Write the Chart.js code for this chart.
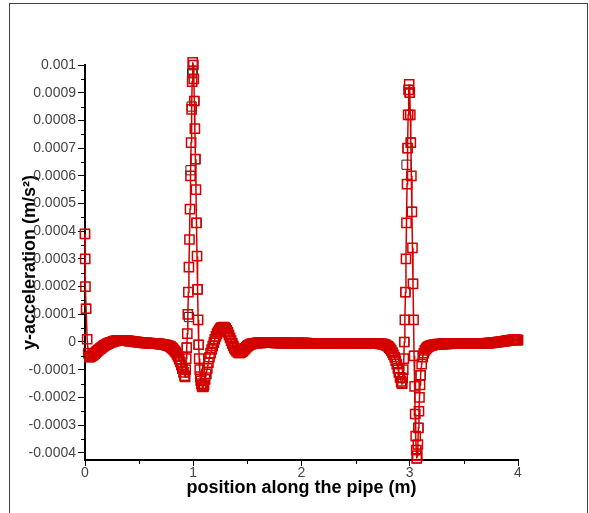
<!DOCTYPE html>
<html>
<head>
<meta charset="utf-8">
<script src="https://cdn.jsdelivr.net/npm/chart.js@4/dist/chart.umd.min.js"></script>
<style>
  html, body { margin: 0; padding: 0; background: #fff; overflow: hidden; }
  #wrap { position: relative; width: 589px; height: 513px; }
  #frame { position: absolute; left: 9px; top: 3px; width: 579px; height: 530px; border: 1px solid #444; box-sizing: border-box; pointer-events: none; }
  canvas { position: absolute; left: 0; top: 0; }
</style>
</head>
<body>
<div id="wrap">
  <div id="frame"></div>
  <canvas id="c" width="589" height="513"></canvas>
</div>
<script>
// ---- data (position in m, y-acceleration in m/s^2) ----
const redX = [
  0, 0.002, 0.004, 0.01,
  0.02, 0.03, 0.04, 0.05, 0.06, 0.07, 0.08, 0.09, 0.10,
  0.11, 0.12, 0.13, 0.14, 0.15, 0.16, 0.17, 0.18, 0.19, 0.20,
  0.21, 0.22, 0.23, 0.24, 0.25, 0.26, 0.27, 0.28, 0.29, 0.30,
  0.31, 0.32, 0.33, 0.34, 0.35, 0.36, 0.37, 0.38, 0.39, 0.40,
  0.41, 0.42, 0.43, 0.44, 0.45, 0.46, 0.47, 0.48, 0.49, 0.50,
  0.51, 0.52, 0.53, 0.54, 0.55, 0.56, 0.57, 0.58, 0.59, 0.60,
  0.61, 0.62, 0.63, 0.64, 0.65, 0.66, 0.67, 0.68, 0.69, 0.70,
  0.71, 0.72, 0.73, 0.74, 0.75, 0.76, 0.77, 0.78, 0.79, 0.80,
  0.81, 0.82, 0.83, 0.84, 0.85, 0.86, 0.87, 0.88, 0.89, 0.90,
  0.91, 0.92, 0.925, 0.93, 0.935, 0.94, 0.945, 0.95, 0.955, 0.96,
  0.965, 0.97, 0.975, 0.98, 0.985, 0.99, 0.995, 1.0, 1.005, 1.01,
  1.015, 1.02, 1.025, 1.03, 1.035, 1.04, 1.045, 1.05, 1.055, 1.06,
  1.065, 1.07, 1.075, 1.08, 1.085, 1.09, 1.095, 1.10,
  1.11, 1.12, 1.13, 1.14, 1.15, 1.16, 1.17, 1.18, 1.19, 1.20,
  1.21, 1.22, 1.23, 1.24, 1.25, 1.26, 1.27, 1.28, 1.29, 1.30,
  1.31, 1.32, 1.33, 1.34, 1.35, 1.36, 1.37, 1.38, 1.39, 1.40,
  1.41, 1.42, 1.43, 1.44, 1.45, 1.46, 1.47, 1.48, 1.49, 1.50,
  1.51, 1.52, 1.53, 1.54, 1.55, 1.56, 1.57, 1.58, 1.59, 1.60,
  1.61, 1.62, 1.63, 1.64, 1.65, 1.66, 1.67, 1.68, 1.69, 1.70,
  1.71, 1.72, 1.73, 1.74, 1.75, 1.76, 1.77, 1.78, 1.79, 1.80,
  1.81, 1.82, 1.83, 1.84, 1.85, 1.86, 1.87, 1.88, 1.89, 1.90,
  1.91, 1.92, 1.93, 1.94, 1.95, 1.96, 1.97, 1.98, 1.99, 2.00,
  2.01, 2.02, 2.03, 2.04, 2.05, 2.06, 2.07, 2.08, 2.09, 2.10,
  2.11, 2.12, 2.13, 2.14, 2.15, 2.16, 2.17, 2.18, 2.19, 2.20,
  2.21, 2.22, 2.23, 2.24, 2.25, 2.26, 2.27, 2.28, 2.29, 2.30,
  2.31, 2.32, 2.33, 2.34, 2.35, 2.36, 2.37, 2.38, 2.39, 2.40,
  2.41, 2.42, 2.43, 2.44, 2.45, 2.46, 2.47, 2.48, 2.49, 2.50,
  2.51, 2.52, 2.53, 2.54, 2.55, 2.56, 2.57, 2.58, 2.59, 2.60,
  2.61, 2.62, 2.63, 2.64, 2.65, 2.66, 2.67, 2.68, 2.69, 2.70,
  2.71, 2.72, 2.73, 2.74, 2.75,
  2.76, 2.77, 2.78, 2.79, 2.80, 2.81, 2.82, 2.83, 2.84, 2.85,
  2.86, 2.87, 2.88, 2.89, 2.90,
  2.91, 2.92, 2.925,
  2.93, 2.935, 2.94, 2.945, 2.95, 2.955, 2.96, 2.965, 2.97, 2.975,
  2.98, 2.985, 2.99, 2.995, 3.0, 3.005, 3.01, 3.015, 3.02, 3.025,
  3.03, 3.035, 3.04, 3.045, 3.05, 3.055, 3.06, 3.065, 3.07, 3.075,
  3.08, 3.085, 3.09, 3.095, 3.10,
  3.11, 3.12, 3.13, 3.14, 3.15,
  3.16, 3.17, 3.18, 3.19, 3.20, 3.21, 3.22, 3.23, 3.24, 3.25,
  3.26, 3.27, 3.28, 3.29, 3.30, 3.31, 3.32, 3.33, 3.34, 3.35,
  3.36, 3.37, 3.38, 3.39, 3.40, 3.41, 3.42, 3.43, 3.44, 3.45,
  3.46, 3.47, 3.48, 3.49, 3.50, 3.51, 3.52, 3.53, 3.54, 3.55,
  3.56, 3.57, 3.58, 3.59, 3.60, 3.61, 3.62, 3.63, 3.64, 3.65,
  3.66, 3.67, 3.68, 3.69, 3.70, 3.71, 3.72, 3.73, 3.74, 3.75,
  3.76, 3.77, 3.78, 3.79, 3.80, 3.81, 3.82, 3.83, 3.84, 3.85,
  3.86, 3.87, 3.88, 3.89, 3.90, 3.91, 3.92, 3.93, 3.94, 3.95,
  3.96, 3.97, 3.98, 3.99, 4.00
];
const redY = [
  39e-5, 30e-5, 20e-5, 12e-5,
  1e-5, -4e-5, -5.5e-5, -5.3e-5, -5e-5, -4.8e-5, -4.5e-5, -4.2e-5, -3.8e-5,
  -3.4e-5, -3e-5, -2.7e-5, -2.4e-5, -2.1e-5, -1.8e-5, -1.5e-5, -1.2e-5, -1e-5, -0.8e-5,
  -0.6e-5, -0.4e-5, -0.2e-5, -0.1e-5, 0, 0.2e-5, 0.3e-5, 0.4e-5, 0.45e-5, 0.5e-5,
  0.55e-5, 0.6e-5, 0.6e-5, 0.6e-5, 0.6e-5, 0.6e-5, 0.55e-5, 0.5e-5, 0.45e-5, 0.4e-5,
  0.35e-5, 0.3e-5, 0.25e-5, 0.2e-5, 0.15e-5, 0.1e-5, 0.05e-5, 0, -0.05e-5, -0.1e-5,
  -0.15e-5, -0.2e-5, -0.25e-5, -0.3e-5, -0.3e-5, -0.3e-5, -0.35e-5, -0.4e-5, -0.4e-5, -0.4e-5,
  -0.45e-5, -0.5e-5, -0.5e-5, -0.5e-5, -0.55e-5, -0.6e-5, -0.6e-5, -0.65e-5, -0.7e-5, -0.8e-5,
  -0.85e-5, -0.9e-5, -0.95e-5, -1e-5, -1.1e-5, -1.2e-5, -1.35e-5, -1.5e-5, -1.7e-5, -2e-5,
  -2.4e-5, -2.8e-5, -3.3e-5, -3.8e-5, -4.5e-5, -5.2e-5, -6.2e-5, -7.2e-5, -8.4e-5, -9.6e-5,
  -11e-5, -12.2e-5, -12.6e-5, -10e-5, -6e-5, -2e-5, 3e-5, 10e-5, 18e-5, 27e-5,
  37e-5, 48e-5, 60e-5, 72e-5, 84e-5, 94e-5, 101e-5, 100e-5, 95e-5, 87e-5,
  77e-5, 66e-5, 55e-5, 43e-5, 31e-5, 19e-5, 8e-5, -1e-5, -6e-5, -10e-5,
  -12.5e-5, -14e-5, -15e-5, -15.7e-5, -16.1e-5, -16.2e-5, -16e-5, -15.4e-5,
  -13.5e-5, -11.5e-5, -9.5e-5, -7.5e-5, -5.5e-5, -4e-5, -2.7e-5, -1.5e-5, -0.2e-5, 1e-5,
  2e-5, 3e-5, 3.7e-5, 4.3e-5, 4.8e-5, 5.2e-5, 5.3e-5, 5.4e-5, 5.2e-5, 4.8e-5,
  4.2e-5, 3.5e-5, 2.5e-5, 1.5e-5, 0.5e-5, -0.5e-5, -1.4e-5, -2.2e-5, -2.8e-5, -3.3e-5,
  -3.6e-5, -3.9e-5, -3.9e-5, -3.8e-5, -3.5e-5, -3.2e-5, -2.8e-5, -2.3e-5, -1.9e-5, -1.5e-5,
  -1.2e-5, -1e-5, -0.8e-5, -0.7e-5, -0.6e-5, -0.5e-5, -0.45e-5, -0.4e-5, -0.35e-5, -0.3e-5,
  -0.3e-5, -0.3e-5, -0.3e-5, -0.25e-5, -0.2e-5, -0.2e-5, -0.2e-5, -0.2e-5, -0.2e-5, -0.2e-5,
  -0.2e-5, -0.2e-5, -0.2e-5, -0.25e-5, -0.3e-5, -0.3e-5, -0.3e-5, -0.3e-5, -0.3e-5, -0.3e-5,
  -0.3e-5, -0.3e-5, -0.3e-5, -0.3e-5, -0.3e-5, -0.3e-5, -0.35e-5, -0.4e-5, -0.4e-5, -0.4e-5,
  -0.4e-5, -0.4e-5, -0.4e-5, -0.4e-5, -0.4e-5, -0.4e-5, -0.4e-5, -0.4e-5, -0.4e-5, -0.4e-5,
  -0.4e-5, -0.4e-5, -0.4e-5, -0.4e-5, -0.4e-5, -0.45e-5, -0.5e-5, -0.5e-5, -0.5e-5, -0.5e-5,
  -0.5e-5, -0.5e-5, -0.5e-5, -0.5e-5, -0.5e-5, -0.5e-5, -0.5e-5, -0.5e-5, -0.5e-5, -0.5e-5,
  -0.5e-5, -0.5e-5, -0.5e-5, -0.5e-5, -0.5e-5, -0.5e-5, -0.5e-5, -0.5e-5, -0.5e-5, -0.5e-5,
  -0.5e-5, -0.5e-5, -0.5e-5, -0.5e-5, -0.5e-5, -0.5e-5, -0.5e-5, -0.5e-5, -0.5e-5, -0.5e-5,
  -0.5e-5, -0.5e-5, -0.5e-5, -0.5e-5, -0.5e-5, -0.5e-5, -0.5e-5, -0.5e-5, -0.5e-5, -0.5e-5,
  -0.55e-5, -0.6e-5, -0.6e-5, -0.6e-5, -0.6e-5, -0.6e-5, -0.6e-5, -0.6e-5, -0.6e-5, -0.6e-5,
  -0.6e-5, -0.6e-5, -0.6e-5, -0.6e-5, -0.6e-5, -0.6e-5, -0.6e-5, -0.6e-5, -0.6e-5, -0.6e-5,
  -0.6e-5, -0.6e-5, -0.65e-5, -0.7e-5, -0.75e-5,
  -0.8e-5, -0.95e-5, -1.1e-5, -1.35e-5, -1.6e-5, -2e-5, -2.5e-5, -3.1e-5, -3.8e-5, -4.6e-5,
  -5.5e-5, -6.7e-5, -8e-5, -9.5e-5, -11e-5,
  -12.8e-5, -14.2e-5, -14.8e-5,
  -15e-5, -13e-5, -10e-5, -6e-5, 0, 8e-5, 18e-5, 30e-5, 43e-5, 57e-5,
  70e-5, 82e-5, 91e-5, 93e-5, 90e-5, 82e-5, 72e-5, 60e-5, 47e-5, 34e-5,
  21e-5, 8e-5, -5e-5, -16e-5, -26e-5, -34e-5, -39e-5, -42e-5, -41e-5, -37e-5,
  -31e-5, -25e-5, -20e-5, -15.5e-5, -12e-5,
  -8e-5, -5.5e-5, -4e-5, -3e-5, -2.5e-5,
  -2e-5, -1.7e-5, -1.5e-5, -1.35e-5, -1.2e-5, -1.1e-5, -1e-5, -0.95e-5, -0.9e-5, -0.85e-5,
  -0.8e-5, -0.8e-5, -0.8e-5, -0.75e-5, -0.7e-5, -0.7e-5, -0.7e-5, -0.7e-5, -0.7e-5, -0.65e-5,
  -0.6e-5, -0.6e-5, -0.6e-5, -0.6e-5, -0.6e-5, -0.6e-5, -0.6e-5, -0.6e-5, -0.6e-5, -0.6e-5,
  -0.6e-5, -0.6e-5, -0.6e-5, -0.6e-5, -0.6e-5, -0.6e-5, -0.6e-5, -0.6e-5, -0.6e-5, -0.6e-5,
  -0.6e-5, -0.6e-5, -0.6e-5, -0.55e-5, -0.5e-5, -0.5e-5, -0.5e-5, -0.5e-5, -0.5e-5, -0.5e-5,
  -0.5e-5, -0.5e-5, -0.5e-5, -0.5e-5, -0.5e-5, -0.45e-5, -0.4e-5, -0.4e-5, -0.35e-5, -0.3e-5,
  -0.3e-5, -0.25e-5, -0.2e-5, -0.15e-5, -0.1e-5, -0.05e-5, 0, 0.05e-5, 0.1e-5, 0.15e-5,
  0.2e-5, 0.25e-5, 0.3e-5, 0.4e-5, 0.5e-5, 0.55e-5, 0.6e-5, 0.65e-5, 0.7e-5, 0.75e-5,
  0.8e-5, 0.8e-5, 0.8e-5, 0.75e-5, 0.7e-5
];
// second (black) series: almost coincident with the red one, hidden underneath
const blackX = [
  0, 0.01, 0.04, 0.10, 0.20, 0.30, 0.40, 0.50, 0.60, 0.70,
  0.80, 0.86, 0.90, 0.92, 0.94, 0.96, 0.975, 0.985, 0.99, 0.995,
  1.0, 1.01, 1.02, 1.03, 1.04, 1.05, 1.07, 1.09, 1.12, 1.20,
  1.28, 1.36, 1.42, 1.50, 1.60, 1.80, 2.00, 2.20, 2.40, 2.60,
  2.76, 2.84, 2.90, 2.93, 2.95, 2.96, 2.97, 2.98, 2.99, 3.0,
  3.01, 3.02, 3.03, 3.04, 3.05, 3.06, 3.065, 3.08, 3.10, 3.16,
  3.30, 3.50, 3.70, 3.86, 4.00
];
const blackY = [
  39e-5, 12e-5, -5.5e-5, -3.8e-5, -0.8e-5, 0.5e-5, 0.4e-5, -0.1e-5, -0.4e-5, -0.8e-5,
  -2e-5, -5.2e-5, -9.6e-5, -12.2e-5, -2e-5, 9e-5, 62e-5, 85e-5, 97e-5, 98e-5,
  100e-5, 87e-5, 66e-5, 43e-5, 19e-5, -1e-5, -14e-5, -16.2e-5, -11.5e-5, 1e-5,
  5.4e-5, -0.5e-5, -3.9e-5, -1.5e-5, -0.3e-5, -0.3e-5, -0.4e-5, -0.5e-5, -0.5e-5, -0.6e-5,
  -0.8e-5, -3.8e-5, -11e-5, -15e-5, 0, 18e-5, 64e-5, 70e-5, 91e-5, 90e-5,
  72e-5, 47e-5, 21e-5, -5e-5, -26e-5, -39e-5, -42e-5, -31e-5, -12e-5, -2e-5,
  -0.7e-5, -0.6e-5, -0.5e-5, 0.2e-5, 0.7e-5
];

const xTicks = [0, 1, 2, 3, 4];
const xTickLabels = ['0', '1', '2', '3', '4'];
const xMinorTicks = [0.5, 1.5, 2.5, 3.5];
const yTicks = [-0.0004, -0.0003, -0.0002, -0.0001, 0, 0.0001, 0.0002, 0.0003, 0.0004, 0.0005, 0.0006, 0.0007, 0.0008, 0.0009, 0.001];
const yTickLabels = ['-0.0004', '-0.0003', '-0.0002', '-0.0001', '0', '0.0001', '0.0002', '0.0003', '0.0004', '0.0005', '0.0006', '0.0007', '0.0008', '0.0009', '0.001'];
const yMinorTicks = [-0.00035, -0.00025, -0.00015, -0.00005, 0.00005, 0.00015, 0.00025, 0.00035, 0.00045, 0.00055, 0.00065, 0.00075, 0.00085, 0.00095];

const xTitle = 'position along the pipe (m)';
const yTitle = 'y-acceleration (m/s\u00B2)';

const RED = '#d40000';

function pts(xs, ys) { return xs.map((x, i) => ({ x: x, y: ys[i] })); }

const minorTicksPlugin = {
  id: 'minorTicks',
  afterDraw(chart) {
    const ctx = chart.ctx;
    const xs = chart.scales.x, ys = chart.scales.y;
    const ca = chart.chartArea;
    ctx.save();
    ctx.strokeStyle = '#000';
    ctx.lineWidth = 1;
    ctx.beginPath();
    yMinorTicks.forEach(v => {
      const py = Math.round(ys.getPixelForValue(v)) + 0.5;
      ctx.moveTo(ca.left - 4, py);
      ctx.lineTo(ca.left, py);
    });
    xMinorTicks.forEach(v => {
      const px = Math.round(xs.getPixelForValue(v)) + 0.5;
      ctx.moveTo(px, ca.bottom);
      ctx.lineTo(px, ca.bottom + 4);
    });
    ctx.stroke();
    ctx.restore();
  }
};

const tickFont = { family: '"Liberation Sans", Arial, sans-serif', size: 14 };
const titleFont = { family: '"Liberation Sans", Arial, sans-serif', size: 18, weight: 'bold' };

new Chart(document.getElementById('c'), {
  type: 'scatter',
  data: {
    datasets: [
      {
        label: 'red',
        data: pts(redX, redY),
        showLine: true,
        borderColor: RED,
        borderWidth: 1.5,
        pointStyle: 'rect',
        pointRadius: 6.5,
        pointBorderWidth: 1.5,
        pointBorderColor: RED,
        pointBackgroundColor: 'rgba(0,0,0,0)',
        clip: false
      },
      {
        label: 'black',
        data: pts(blackX, blackY),
        showLine: false,
        borderColor: '#000',
        borderWidth: 1,
        pointStyle: 'rect',
        pointRadius: 6.5,
        pointBorderWidth: 1,
        pointBorderColor: '#222',
        pointBackgroundColor: 'rgba(0,0,0,0)',
        clip: false
      }
    ]
  },
  options: {
    responsive: false,
    animation: false,
    devicePixelRatio: 1,
    layout: { padding: { left: 0, top: 65, right: 71, bottom: 0 } },
    plugins: { legend: { display: false }, tooltip: { enabled: false } },
    scales: {
      x: {
        type: 'linear',
        min: 0,
        max: 4,
        afterFit(scale) { scale.height = 53; },
        afterBuildTicks(scale) { scale.ticks = xTicks.map(v => ({ value: v })); },
        ticks: {
          color: '#444',
          font: tickFont,
          padding: -1,
          maxRotation: 0,
          autoSkip: false,
          callback: (v, i) => xTickLabels[i]
        },
        grid: { drawOnChartArea: false, drawTicks: true, tickLength: 6, tickColor: '#000', tickWidth: 1 },
        border: { display: true, color: '#000', width: 2 },
        title: { display: true, text: xTitle, color: '#000', font: titleFont, padding: { top: 0, bottom: 14 } }
      },
      y: {
        type: 'linear',
        min: -0.000426,
        max: 0.001,
        afterFit(scale) { scale.width = 85; },
        afterBuildTicks(scale) { scale.ticks = yTicks.map(v => ({ value: v })); },
        ticks: {
          color: '#444',
          font: tickFont,
          padding: 2,
          autoSkip: false,
          callback: (v, i) => yTickLabels[i]
        },
        grid: { drawOnChartArea: false, drawTicks: true, tickLength: 7, tickColor: '#000', tickWidth: 1 },
        border: { display: true, color: '#000', width: 2 },
        title: { display: true, text: yTitle, color: '#000', font: titleFont, padding: { top: 19, bottom: 0 } }
      }
    }
  },
  plugins: [minorTicksPlugin]
});
</script>
</body>
</html>
